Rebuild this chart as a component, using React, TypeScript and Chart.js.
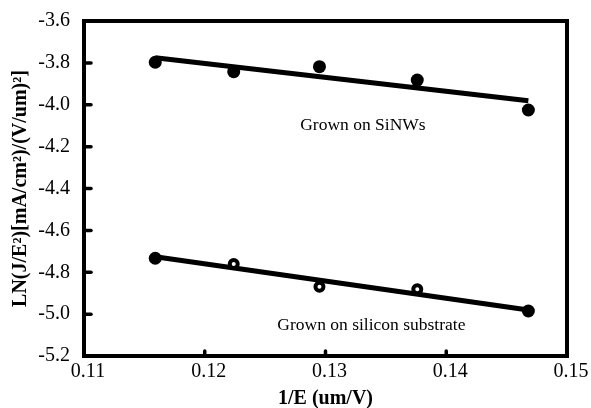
import React, { useEffect, useRef } from "react";
import { Chart, registerables } from "chart.js";

Chart.register(...registerables);

const xValues = [0.1159, 0.1224, 0.1295, 0.1376, 0.1468];
const sinwY = [-3.797, -3.842, -3.818, -3.882, -4.025];
const siliconY = [-4.733, -4.761, -4.869, -4.881, -4.985];
const fitX = [0.1159, 0.1468];
const sinwFitY = [-3.776, -3.981];
const siliconFitY = [-4.726, -4.98];
const xTicks = [0.11, 0.12, 0.13, 0.14, 0.15];
const yTicks = [-3.6, -3.8, -4.0, -4.2, -4.4, -4.6, -4.8, -5.0, -5.2];
const notes = [
  { text: "Grown on SiNWs", x: 0.1331, y: -4.097 },
  { text: "Grown on silicon substrate", x: 0.1338, y: -5.052 },
];

const SERIF = "'Liberation Serif', 'Times New Roman', serif";

const framePlugin = {
  id: "framePlugin",
  beforeDatasetsDraw(chart: any) {
    const { ctx, chartArea } = chart;
    const xs = chart.scales.x;
    const ys = chart.scales.y;
    ctx.save();
    ctx.strokeStyle = "#000";
    ctx.lineWidth = 4;
    ctx.lineJoin = "miter";
    ctx.strokeRect(chartArea.left, chartArea.top, chartArea.right - chartArea.left, chartArea.bottom - chartArea.top);
    ctx.lineCap = "round";
    ctx.lineWidth = 3.5;
    xs.ticks.forEach((t: any, i: number) => {
      if (i === 0 || i === xs.ticks.length - 1) return;
      const px = xs.getPixelForValue(t.value);
      ctx.beginPath();
      ctx.moveTo(px, chartArea.bottom);
      ctx.lineTo(px, chartArea.bottom - 5);
      ctx.stroke();
    });
    ys.ticks.forEach((t: any, i: number) => {
      if (i === 0 || i === ys.ticks.length - 1) return;
      const py = ys.getPixelForValue(t.value);
      ctx.beginPath();
      ctx.moveTo(chartArea.left, py);
      ctx.lineTo(chartArea.left + 7, py);
      ctx.stroke();
    });
    ctx.restore();
  },
  afterDraw(chart: any) {
    const { ctx } = chart;
    const xs = chart.scales.x;
    const ys = chart.scales.y;
    ctx.save();
    ctx.fillStyle = "#000";
    ctx.font = `17.5px ${SERIF}`;
    ctx.textAlign = "center";
    ctx.textBaseline = "middle";
    notes.forEach((n) => {
      ctx.fillText(n.text, xs.getPixelForValue(n.x), ys.getPixelForValue(n.y));
    });
    ctx.restore();
  },
};

export default function App() {
  const ref = useRef<HTMLCanvasElement | null>(null);
  useEffect(() => {
    if (!ref.current) return;
    const chart = new Chart(ref.current, {
      type: "scatter",
      data: {
        datasets: [
          {
            data: xValues.map((x, i) => ({ x, y: sinwY[i] })),
            pointRadius: 6.5,
            pointBackgroundColor: "#000",
            pointBorderColor: "#000",
            pointBorderWidth: 0,
            showLine: false,
          },
          {
            data: xValues.map((x, i) => ({ x, y: siliconY[i] })),
            pointRadius: [6.5, 4, 4, 4, 6.5],
            pointBackgroundColor: ["#000", "#fff", "#fff", "#fff", "#000"],
            pointBorderColor: "#000",
            pointBorderWidth: [0, 4, 4, 4, 0],
            showLine: false,
          },
          {
            data: fitX.map((x, i) => ({ x, y: sinwFitY[i] })),
            showLine: true,
            borderColor: "#000",
            borderWidth: 5,
            pointRadius: 0,
          },
          {
            data: fitX.map((x, i) => ({ x, y: siliconFitY[i] })),
            showLine: true,
            borderColor: "#000",
            borderWidth: 5,
            pointRadius: 0,
          },
        ],
      },
      options: {
        animation: false,
        responsive: false,
        devicePixelRatio: 1,
        layout: { padding: { top: 21, right: 24, left: 0, bottom: 0 } },
        plugins: { legend: { display: false }, tooltip: { enabled: false } },
        scales: {
          x: {
            type: "linear",
            min: xTicks[0],
            max: xTicks[xTicks.length - 1],
            afterBuildTicks: (s: any) => {
              s.ticks = xTicks.map((v) => ({ value: v }));
            },
            afterFit: (s: any) => {
              s.height = 52;
            },
            grid: { display: false },
            border: { display: false },
            ticks: {
              color: "#000",
              font: { family: SERIF, size: 20 },
              padding: -4,
              labelOffset: 4,
              maxRotation: 0,
              autoSkip: false,
              callback: (v: any) => Number(v).toFixed(2),
            },
            title: {
              display: true,
              text: "1/E (um/V)",
              color: "#000",
              font: { family: SERIF, size: 20, weight: "bold", lineHeight: 1 },
              padding: { top: 0, bottom: -1 },
            },
          },
          y: {
            type: "linear",
            min: yTicks[yTicks.length - 1],
            max: yTicks[0],
            afterBuildTicks: (s: any) => {
              s.ticks = yTicks.slice().reverse().map((v) => ({ value: v }));
            },
            afterFit: (s: any) => {
              s.width = 84;
            },
            grid: { display: false },
            border: { display: false },
            ticks: {
              color: "#000",
              font: { family: SERIF, size: 20 },
              padding: 6,
              autoSkip: false,
              callback: (v: any) => Number(v).toFixed(1),
            },
            title: {
              display: true,
              text: "LN(J/E²)[mA/cm²)/(V/um)²]",
              color: "#000",
              font: { family: SERIF, size: 20, weight: "bold", lineHeight: 1 },
              padding: { top: 11, bottom: 0 },
            },
          },
        },
      },
      plugins: [framePlugin],
    });
    return () => chart.destroy();
  }, []);
  return (
    <div style={{ position: "fixed", left: 0, top: 0, width: 591, height: 408, background: "#fff" }}>
      <canvas ref={ref} width={591} height={408} style={{ display: "block", width: 591, height: 408 }} />
    </div>
  );
}
